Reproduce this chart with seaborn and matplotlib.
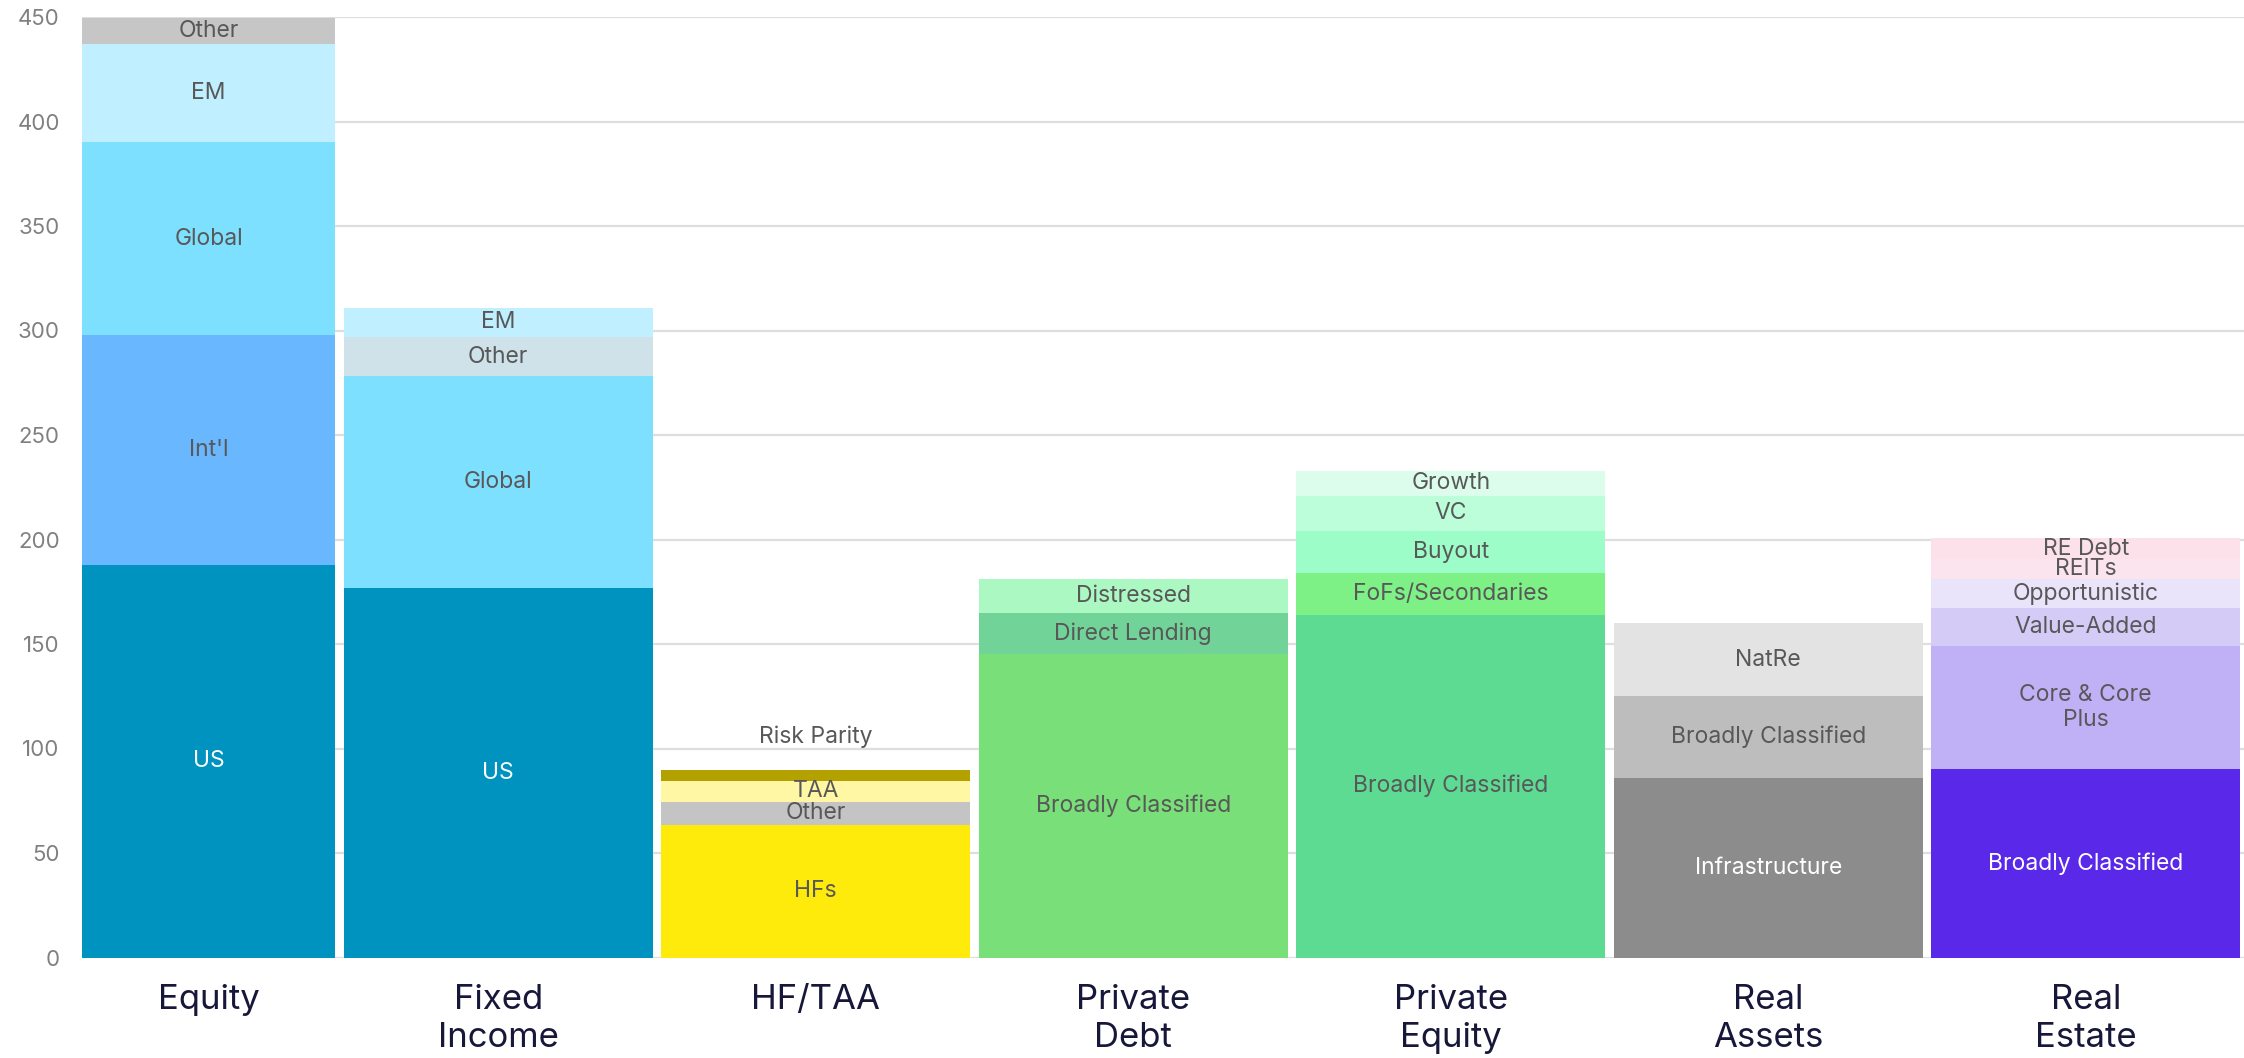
import numpy as np
import pandas as pd
import matplotlib.pyplot as plt
import seaborn as sns

# asset classes (x axis)
categories = ['Equity', 'Fixed\nIncome', 'HF/TAA', 'Private\nDebt',
              'Private\nEquity', 'Real\nAssets', 'Real\nEstate']

# segments, bottom to top, per asset class
equity_seg = ['US', "Int'l", 'Global', 'EM', 'Other']
equity_val = [188, 110, 92, 47, 12.5]

fixed_seg = ['US', 'Global', 'Other', 'EM']
fixed_val = [177, 101, 19, 14]

hf_seg = ['HFs', 'Other', 'TAA', 'Risk Parity']
hf_val = [63.5, 11, 10, 5]

pdebt_seg = ['Broadly Classified', 'Direct Lending', 'Distressed']
pdebt_val = [145, 20, 16]

pe_seg = ['Broadly Classified', 'FoFs/Secondaries', 'Buyout', 'VC', 'Growth']
pe_val = [164, 20, 20, 17, 12]

ra_seg = ['Infrastructure', 'Broadly Classified', 'NatRe']
ra_val = [86, 39, 35]

re_seg = ['Broadly Classified', 'Core & Core\nPlus', 'Value-Added',
          'Opportunistic', 'REITs', 'RE Debt']
re_val = [90, 59, 18, 14, 9.5, 10]

# colours
equity_col = ['#0093BF', '#69B8FF', '#7EE0FF', '#C0F0FF', '#C6C6C6']
fixed_col = ['#0093BF', '#7EE0FF', '#CFE2EA', '#C0F0FF']
hf_col = ['#FFEB0B', '#C4C4C4', '#FFF7A3', '#B3A100']
pdebt_col = ['#79DF78', '#72D399', '#ACF8C3']
pe_col = ['#5EDB93', '#7EF186', '#9CFDC8', '#BCFDDA', '#DDFDEC']
ra_col = ['#8C8C8C', '#BDBDBD', '#E3E3E3']
re_col = ['#5A28E9', '#C0B1F6', '#D4CCF7', '#EAE4FB', '#FCE4EF', '#FCE1EB']

white_labels = {('Equity', 'US'), ('Fixed\nIncome', 'US'),
                ('Real\nAssets', 'Infrastructure'),
                ('Real\nEstate', 'Broadly Classified')}

segs = [equity_seg, fixed_seg, hf_seg, pdebt_seg, pe_seg, ra_seg, re_seg]
vals = [equity_val, fixed_val, hf_val, pdebt_val, pe_val, ra_val, re_val]
cols = [equity_col, fixed_col, hf_col, pdebt_col, pe_col, ra_col, re_col]

rows = []
for cat, s, v, c in zip(categories, segs, vals, cols):
    bottom = 0
    for k, (name, val, col) in enumerate(zip(s, v, c)):
        rows.append(dict(category=cat, segment=name, layer=k, value=val,
                         bottom=bottom, top=bottom + val, color=col))
        bottom += val
df = pd.DataFrame(rows)

sns.set_style('white')
plt.rcParams['font.family'] = ['Inter', 'DejaVu Sans']

W, H = 2244, 1058
fig = plt.figure(figsize=(W / 100, H / 100), dpi=100)
left_px, bottom_px, top_px = 82, 957.5, 17
ax = fig.add_axes([left_px / W, 1 - bottom_px / H, 1 - left_px / W,
                   (bottom_px - top_px) / H])

bar_w = 0.973
# draw cumulative tops from the highest layer down so lower layers overlay
for k in sorted(df['layer'].unique(), reverse=True):
    sub = df[df['layer'] == k]
    sns.barplot(data=sub, x='category', y='top', hue='category',
                palette=dict(zip(sub['category'], sub['color'])),
                order=categories, width=bar_w, saturation=1,
                linewidth=0, legend=False, ax=ax)

xmin, xmax = -0.311, 6.4986
ax.set_xlim(xmin, xmax)
ax.set_ylim(0, 450)
xpos = {cat: float(i) for i, cat in enumerate(categories)}
xpos['Equity'] = (xmin + bar_w / 2) / 2  # centre of visible part

for _, r in df.iterrows():
    tc = 'white' if (r['category'], r['segment']) in white_labels else '#585858'
    if r['value'] < 6:
        y = r['top'] + 16
    else:
        y = r['bottom'] + r['value'] / 2
    ax.text(xpos[r['category']], y, r['segment'], ha='center', va='center',
            fontsize=16.5, color=tc, linespacing=1.15)

ax.set_xticks([xpos[c] for c in categories], categories)
ax.set_yticks(np.arange(0, 451, 50))
ax.tick_params(axis='x', length=0, pad=19, labelsize=25, labelcolor='#17173a')
ax.tick_params(axis='y', length=0, pad=16, labelsize=16, labelcolor='#808080')
for lab in ax.get_xticklabels():
    lab.set_linespacing(1.25)
ax.set_xlabel('')
ax.set_ylabel('')
ax.yaxis.grid(True, color='#dedede', linewidth=1.6)
ax.set_axisbelow(True)
sns.despine(ax=ax, left=True, bottom=True)

fig.savefig('out.png', dpi=100)
